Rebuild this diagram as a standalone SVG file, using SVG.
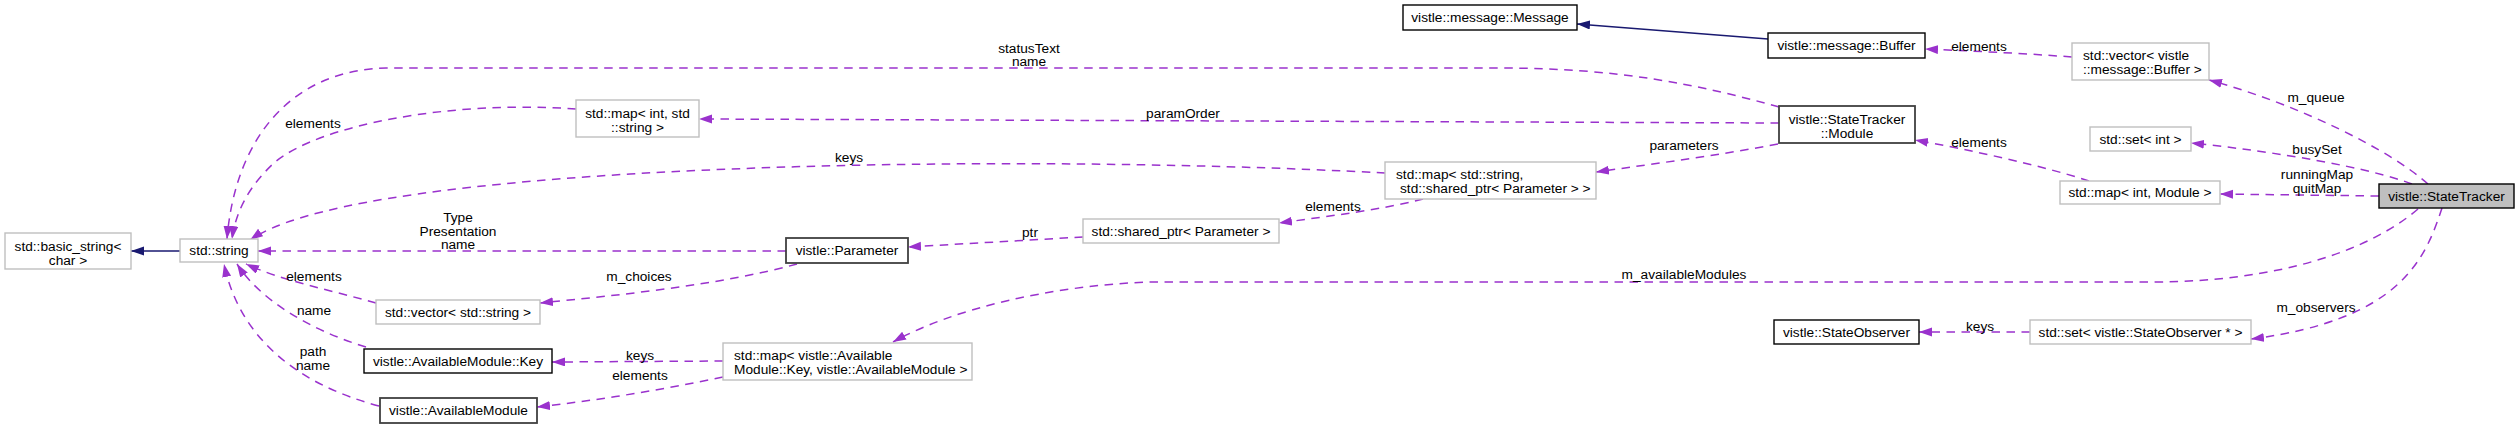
<svg xmlns="http://www.w3.org/2000/svg" width="2520" height="429" viewBox="0 0 2520 429">
<style>
text{font-family:"Liberation Sans",Arial,Helvetica,sans-serif;font-size:13.7px;fill:#000}
.c{text-anchor:middle}
.s{text-anchor:start}
.g{fill:#fff;stroke:#bfbfbf;stroke-width:1.4}
.b{fill:#fff;stroke:#000;stroke-width:1.4}
.d{fill:#fff;stroke:#404040;stroke-width:1.8}
.m{fill:#bfbfbf;stroke:#000;stroke-width:1.4}
.e{fill:none;stroke:#9a32cd;stroke-width:1.5;stroke-dasharray:8.5,6.5;marker-end:url(#pa)}
.i{fill:none;stroke:#191970;stroke-width:1.5;marker-end:url(#na)}
</style>
<defs>
<marker id="pa" markerUnits="userSpaceOnUse" markerWidth="14" markerHeight="10" refX="13" refY="4.5" orient="auto"><path d="M0,0 L13,4.5 L0,9 z" fill="#9a32cd"/></marker>
<marker id="na" markerUnits="userSpaceOnUse" markerWidth="14" markerHeight="10" refX="13" refY="4.5" orient="auto"><path d="M0,0 L13,4.5 L0,9 z" fill="#191970"/></marker>
</defs>
<rect width="2520" height="429" fill="#fff"/>
<g id="edges">
<path class="i" d="M180,251 L131,251"/>
<path class="i" d="M1768,39 L1577,24"/>
<path class="e" d="M1779,107 C1700,85 1620,68 1500,68 L386,68 C290,70 235,140 227,239"/>
<text class="c" x="1029" y="53">statusText</text>
<text class="c" x="1029" y="66">name</text>
<path class="e" d="M576,109 C450,100 320,125 275,162 C250,185 236,210 232,239"/>
<text class="c" x="313" y="128">elements</text>
<path class="e" d="M1779,123 L699,119"/>
<text class="c" x="1183" y="118">paramOrder</text>
<path class="e" d="M1385,173 C1200,163 900,158 630,174 C450,185 300,205 250,240"/>
<text class="c" x="849" y="162">keys</text>
<path class="e" d="M786,251 L258,251"/>
<text class="c" x="458" y="222">Type</text>
<text class="c" x="458" y="235.5">Presentation</text>
<text class="c" x="458" y="249">name</text>
<path class="e" d="M1083,237 L908,247"/>
<text class="c" x="1030" y="237">ptr</text>
<path class="e" d="M797,264 C720,285 620,295 540,303"/>
<text class="c" x="639" y="281">m_choices</text>
<path class="e" d="M376,303 C330,290 280,280 246,264"/>
<text class="c" x="314" y="281">elements</text>
<path class="e" d="M366,347 C310,330 260,300 237,264"/>
<text class="c" x="314" y="315">name</text>
<path class="e" d="M379,406 C300,385 240,340 224,264"/>
<text class="c" x="313" y="356">path</text>
<text class="c" x="313" y="370">name</text>
<path class="e" d="M723,377 C660,390 600,400 537,407"/>
<text class="c" x="640" y="380">elements</text>
<path class="e" d="M723,361 L552,362"/>
<text class="c" x="640" y="360">keys</text>
<path class="e" d="M1778,144 C1720,155 1660,163 1596,172"/>
<text class="c" x="1684" y="150">parameters</text>
<path class="e" d="M1423,199 C1380,210 1330,216 1279,223"/>
<text class="c" x="1333" y="211">elements</text>
<path class="e" d="M2072,57 C2020,53 1970,51 1925,49"/>
<text class="c" x="1979" y="51">elements</text>
<path class="e" d="M2428,184 C2390,150 2300,105 2209,80"/>
<text class="c" x="2316" y="102">m_queue</text>
<path class="e" d="M2412,184 C2370,168 2280,152 2191,143"/>
<text class="c" x="2317" y="154">busySet</text>
<path class="e" d="M2379,196 L2220,194"/>
<text class="c" x="2317" y="179">runningMap</text>
<text class="c" x="2317" y="193">quitMap</text>
<path class="e" d="M2089,181 C2040,165 1970,150 1915,140"/>
<text class="c" x="1979" y="147">elements</text>
<path class="e" d="M2418,209 C2370,250 2280,282 2151,282 L1152,282 C1050,285 950,310 893,342"/>
<text class="c" x="1684" y="279">m_availableModules</text>
<path class="e" d="M2442,208 C2425,260 2400,320 2251,339"/>
<text class="c" x="2316" y="312">m_observers</text>
<path class="e" d="M2030,332 L1919,332"/>
<text class="c" x="1980" y="331">keys</text>
</g>
<g id="n_basic_string"><rect class="g" x="5" y="233" width="126" height="36"/><text class="c" x="68" y="251">std::basic_string&lt;</text><text class="c" x="68" y="265">char &gt;</text></g>
<g id="n_string"><rect class="g" x="180" y="239" width="78" height="23"/><text class="c" x="219" y="255">std::string</text></g>
<g id="n_map_int_string"><rect class="g" x="576" y="100" width="123" height="37"/><text class="c" x="637.5" y="118">std::map&lt; int, std</text><text class="c" x="637.5" y="132">::string &gt;</text></g>
<g id="n_vector_string"><rect class="g" x="376" y="300" width="164" height="24"/><text class="c" x="458" y="317">std::vector&lt; std::string &gt;</text></g>
<g id="n_key"><rect class="b" x="364" y="349" width="188" height="24"/><text class="c" x="458" y="366">vistle::AvailableModule::Key</text></g>
<g id="n_availablemodule"><rect class="d" x="380" y="398" width="157" height="25"/><text class="c" x="458.5" y="415">vistle::AvailableModule</text></g>
<g id="n_parameter"><rect class="d" x="786" y="238" width="122" height="25"/><text class="c" x="847" y="255">vistle::Parameter</text></g>
<g id="n_shared_ptr"><rect class="g" x="1083" y="219" width="196" height="24"/><text class="c" x="1181" y="236">std::shared_ptr&lt; Parameter &gt;</text></g>
<g id="n_map_key_module"><rect class="g" x="723" y="343" width="249" height="37"/><text class="s" x="734" y="360">std::map&lt; vistle::Available</text><text class="s" x="734" y="374">Module::Key, vistle::AvailableModule &gt;</text></g>
<g id="n_map_string_param"><rect class="g" x="1385" y="162" width="211" height="37"/><text class="s" x="1396" y="179">std::map&lt; std::string,</text><text class="s" x="1400" y="193">std::shared_ptr&lt; Parameter &gt; &gt;</text></g>
<g id="n_module"><rect class="d" x="1779" y="106" width="136" height="37"/><text class="c" x="1847" y="124">vistle::StateTracker</text><text class="c" x="1847" y="138">::Module</text></g>
<g id="n_message"><rect class="b" x="1403" y="5" width="174" height="25"/><text class="c" x="1490" y="22">vistle::message::Message</text></g>
<g id="n_buffer"><rect class="b" x="1768" y="33" width="157" height="25"/><text class="c" x="1846.5" y="50">vistle::message::Buffer</text></g>
<g id="n_vector_buffer"><rect class="g" x="2072" y="43" width="137" height="37"/><text class="s" x="2083" y="60">std::vector&lt; vistle</text><text class="s" x="2083" y="74">::message::Buffer &gt;</text></g>
<g id="n_set_int"><rect class="g" x="2090" y="127" width="101" height="24"/><text class="c" x="2140.5" y="144">std::set&lt; int &gt;</text></g>
<g id="n_map_int_module"><rect class="g" x="2060" y="181" width="160" height="23"/><text class="c" x="2140" y="197">std::map&lt; int, Module &gt;</text></g>
<g id="n_statetracker"><rect class="m" x="2379" y="184" width="135" height="24"/><text class="c" x="2446.5" y="201">vistle::StateTracker</text></g>
<g id="n_stateobserver"><rect class="b" x="1774" y="320" width="145" height="24"/><text class="c" x="1846.5" y="337">vistle::StateObserver</text></g>
<g id="n_set_observer"><rect class="g" x="2030" y="320" width="221" height="24"/><text class="c" x="2140.5" y="337">std::set&lt; vistle::StateObserver * &gt;</text></g>
</svg>
